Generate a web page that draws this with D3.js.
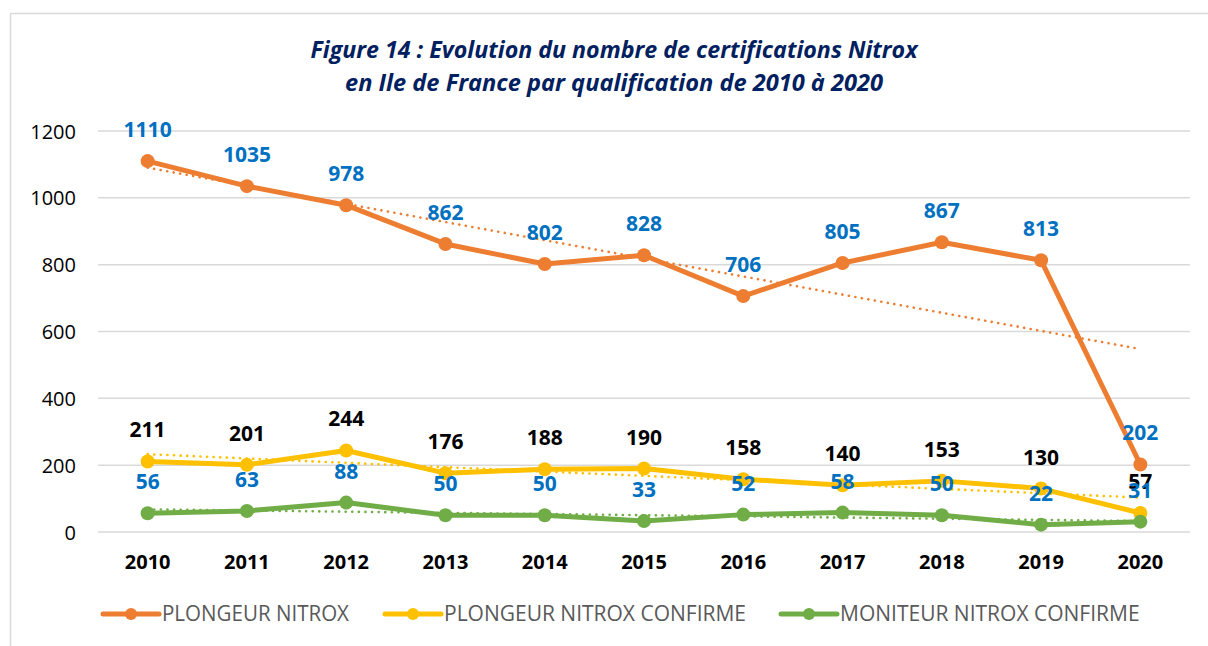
<!DOCTYPE html>
<html><head><meta charset="utf-8">
<script src="https://cdn.jsdelivr.net/npm/d3@7"></script>
<style>
html,body{margin:0;padding:0;background:#fff;}
svg{display:block;}
</style></head>
<body>
<svg id="chart" width="1208" height="646"></svg>
<script>
const years = ["2010","2011","2012","2013","2014","2015","2016","2017","2018","2019","2020"];
const plongeurNitrox = [1110,1035,978,862,802,828,706,805,867,813,202];
const plongeurConfirme = [211,201,244,176,188,190,158,140,153,130,57];
const moniteurConfirme = [56,63,88,50,50,33,52,58,50,22,31];
const yTicks = [0,200,400,600,800,1000,1200];
const seriesNames = ["PLONGEUR NITROX","PLONGEUR NITROX CONFIRME","MONITEUR NITROX CONFIRME"];
const titleLines = ["Figure 14 : Evolution du nombre de certifications Nitrox","en Ile de France par qualification de 2010 à 2020"];

const font = "'Open Sans', sans-serif";
const series = [
  {name: seriesNames[0], values: plongeurNitrox, color: "#ED7D31", labelColor: "#0070C0"},
  {name: seriesNames[1], values: plongeurConfirme, color: "#FFC000", labelColor: "#000000"},
  {name: seriesNames[2], values: moniteurConfirme, color: "#70AD47", labelColor: "#0070C0"}
];

const svg = d3.select("#chart");
// frame
svg.append("path").attr("d","M10.5,646 L10.5,13.5 L1208,13.5").attr("fill","none").attr("stroke","#D9D9D9").attr("stroke-width",1.5);

// fit helper: squeeze text to a target width (keeps real text)
function fitWidth(sel, w){
  sel.each(function(){
    const len = this.getComputedTextLength();
    if (len > w) { d3.select(this).attr("textLength", w).attr("lengthAdjust","spacingAndGlyphs"); }
  });
}

// title
const titleWidths = [607, 538];
svg.append("g").selectAll("text").data(titleLines).join("text")
  .attr("x",614).attr("y",(d,i)=>58+i*33)
  .attr("text-anchor","middle")
  .attr("font-family",font).attr("font-size",24).attr("font-weight","bold").attr("font-style","italic")
  .attr("fill","#002060").text(d=>d)
  .each(function(d,i){ fitWidth(d3.select(this), titleWidths[i]); });

const x = d3.scaleBand().domain(years).range([98,1190]);
const y = d3.scaleLinear().domain([0,1200]).range([532,131]);
const cx = d => x(d) + x.bandwidth()/2;

// gridlines
svg.append("g").selectAll("line").data(yTicks).join("line")
  .attr("x1",98).attr("x2",1190).attr("y1",d=>y(d)).attr("y2",d=>y(d))
  .attr("stroke","#D9D9D9").attr("stroke-width",1.5);

// y axis labels
const yAxis = d3.axisLeft(y).tickValues(yTicks).tickFormat(d3.format("d")).tickSize(0).tickPadding(0);
const ya = svg.append("g").attr("transform","translate(76,0)").call(yAxis);
ya.select(".domain").remove();
ya.selectAll("text").attr("font-family",font).attr("font-size",20).attr("fill","#000").attr("dy","0.35em")
  .each(function(){ fitWidth(d3.select(this), this.textContent.length*11.8); });

// x axis labels
const xAxis = d3.axisBottom(x).tickSize(0).tickPadding(0);
const xa = svg.append("g").attr("transform","translate(0,562)").call(xAxis);
xa.select(".domain").remove();
xa.selectAll("text").attr("font-family",font).attr("font-size",20).attr("font-weight","bold").attr("fill","#000").attr("dy","0.35em")
  .each(function(){ fitWidth(d3.select(this), 47); });

// trend lines (linear regression)
function trend(vals){
  const n = vals.length, xs = d3.range(n);
  const mx = d3.mean(xs), my = d3.mean(vals);
  const b = d3.sum(xs.map((xi,i)=>(xi-mx)*(vals[i]-my))) / d3.sum(xs.map(xi=>(xi-mx)**2));
  const a = my - b*mx;
  return [a, a + b*(n-1)];
}
const lineGen = d3.line().x((d,i)=>cx(years[i])).y(d=>y(d));

series.forEach(s=>{
  const t = trend(s.values);
  svg.append("line")
    .attr("x1",cx(years[0])).attr("x2",cx(years[years.length-1]))
    .attr("y1",y(t[0])).attr("y2",y(t[1]))
    .attr("stroke",s.color).attr("stroke-width",2.6)
    .attr("stroke-dasharray","0.1 6.5").attr("stroke-linecap","round");
});

series.forEach(s=>{
  const g = svg.append("g");
  g.append("path").datum(s.values).attr("d",lineGen)
    .attr("fill","none").attr("stroke",s.color).attr("stroke-width",5).attr("stroke-linejoin","round");
  g.selectAll("circle").data(s.values).join("circle")
    .attr("cx",(d,i)=>cx(years[i])).attr("cy",d=>y(d)).attr("r",7).attr("fill",s.color);
});

series.forEach(s=>{
  svg.append("g").selectAll("text").data(s.values).join("text")
    .attr("x",(d,i)=>cx(years[i])).attr("y",d=>y(d)-24)
    .attr("text-anchor","middle")
    .attr("font-family",font).attr("font-size",21).attr("font-weight","bold")
    .attr("fill",s.labelColor).text(d=>d)
    .each(function(){ fitWidth(d3.select(this), this.textContent.length*12.2); });
});

// legend
const legendX = [103,385,781];
const legendW = [187, 302, 304];
const lg = svg.append("g");
series.forEach((s,i)=>{
  const g = lg.append("g").attr("transform",`translate(${legendX[i]},614)`);
  g.append("line").attr("x1",0).attr("x2",56).attr("stroke",s.color).attr("stroke-width",5).attr("stroke-linecap","round");
  g.append("circle").attr("cx",28).attr("r",6).attr("fill",s.color);
  g.append("text").attr("x",59).attr("dy","0.35em")
    .attr("font-family",font).attr("font-size",21).attr("fill","#595959").text(s.name)
    .each(function(){ fitWidth(d3.select(this), legendW[i]); });
});
</script>
</body></html>
